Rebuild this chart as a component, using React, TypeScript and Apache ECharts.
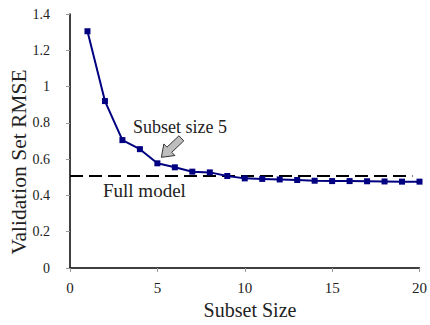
import React, { useEffect, useRef } from "react";
import * as echarts from "echarts";

const subsetSizes = [1, 2, 3, 4, 5, 6, 7, 8, 9, 10, 11, 12, 13, 14, 15, 16, 17, 18, 19, 20];
const rmseValues = [1.305, 0.92, 0.705, 0.655, 0.577, 0.555, 0.531, 0.527, 0.507, 0.494, 0.491, 0.488, 0.485, 0.481, 0.479, 0.479, 0.478, 0.477, 0.476, 0.476];
const fullModelRmse = 0.507;
const fullModelSpan = [0, 19.6];
const xTicks = { min: 0, max: 20, interval: 5 };
const yTicks = { min: 0, max: 1.4, interval: 0.2 };
const highlightSize = 5;

const serif = "Liberation Serif";

export default function App() {
  const ref = useRef<HTMLDivElement>(null);
  useEffect(() => {
    if (!ref.current) return;
    const chart = echarts.init(ref.current, undefined, { renderer: "svg" });
    chart.setOption({
      animation: false,
      backgroundColor: "#ffffff",
      grid: { left: 70, right: 10, top: 14, bottom: 57, containLabel: false },
      xAxis: {
        type: "value",
        min: xTicks.min,
        max: xTicks.max,
        interval: xTicks.interval,
        axisLine: { show: true, lineStyle: { color: "#000", width: 1.5 } },
        axisTick: { show: true, length: 4, lineStyle: { color: "#999" } },
        axisLabel: { color: "#222", fontFamily: serif, fontSize: 15, margin: 12 },
        splitLine: { show: false },
      },
      yAxis: {
        type: "value",
        min: yTicks.min,
        max: yTicks.max,
        interval: yTicks.interval,
        axisLine: { show: true, lineStyle: { color: "#000", width: 1.5 } },
        axisTick: { show: true, length: 4, lineStyle: { color: "#999" } },
        axisLabel: { color: "#222", fontFamily: serif, fontSize: 14, margin: 20 },
        splitLine: { show: false },
      },
      series: [
        {
          type: "line",
          data: fullModelSpan.map((x) => [x, fullModelRmse]),
          symbol: "none",
          lineStyle: { color: "#000", width: 2, type: [13, 6] },
          z: 1,
        },
        {
          type: "line",
          data: subsetSizes.map((x, i) => [x, rmseValues[i]]),
          symbol: "rect",
          symbolSize: 6,
          itemStyle: { color: "#000080" },
          lineStyle: { color: "#000080", width: 2 },
          z: 2,
        },
      ],
    });

    const idx = subsetSizes.indexOf(highlightSize);
    const p = chart.convertToPixel({ gridIndex: 0 }, [highlightSize, rmseValues[idx]]) as number[];
    const tip = [p[0] + 4, p[1] - 6];
    const tail = [tip[0] + 20, tip[1] - 19];
    const dx = tip[0] - tail[0];
    const dy = tip[1] - tail[1];
    const len = Math.hypot(dx, dy);
    const ux = dx / len, uy = dy / len;
    const nx = -uy, ny = ux;
    const bw = 3.5, hw = 8, hl = 11;
    const pt = (a: number, b: number) => [tail[0] + ux * a + nx * b, tail[1] + uy * a + ny * b];
    const arrowPts = [
      pt(0, -bw), pt(len - hl, -bw), pt(len - hl, -hw), pt(len, 0),
      pt(len - hl, hw), pt(len - hl, bw), pt(0, bw),
    ];

    const txt = (text: string, x: number, y: number, size: number, align: string, rotation = 0) => ({
      type: "text",
      x, y, rotation,
      style: {
        text, x: 0, y: 0, fill: "#222", fontFamily: serif, fontSize: size,
        align, verticalAlign: "middle",
      },
    });

    chart.setOption({
      graphic: [
        {
          type: "polygon",
          shape: { points: arrowPts },
          style: { fill: "#bdbdbd", stroke: "#333", lineWidth: 1 },
          z: 10,
        },
        txt("Subset size 5", 133, 127, 18, "left"),
        txt("Full model", 103, 190, 19, "left"),
        txt("Subset Size", 250, 310, 20, "center"),
        txt("Validation Set RMSE", 19, 162, 21.5, "center", Math.PI / 2),
      ],
    });
    return () => chart.dispose();
  }, []);
  return <div ref={ref} style={{ width: 430, height: 325, position: "absolute", left: 0, top: 0 }} />;
}
